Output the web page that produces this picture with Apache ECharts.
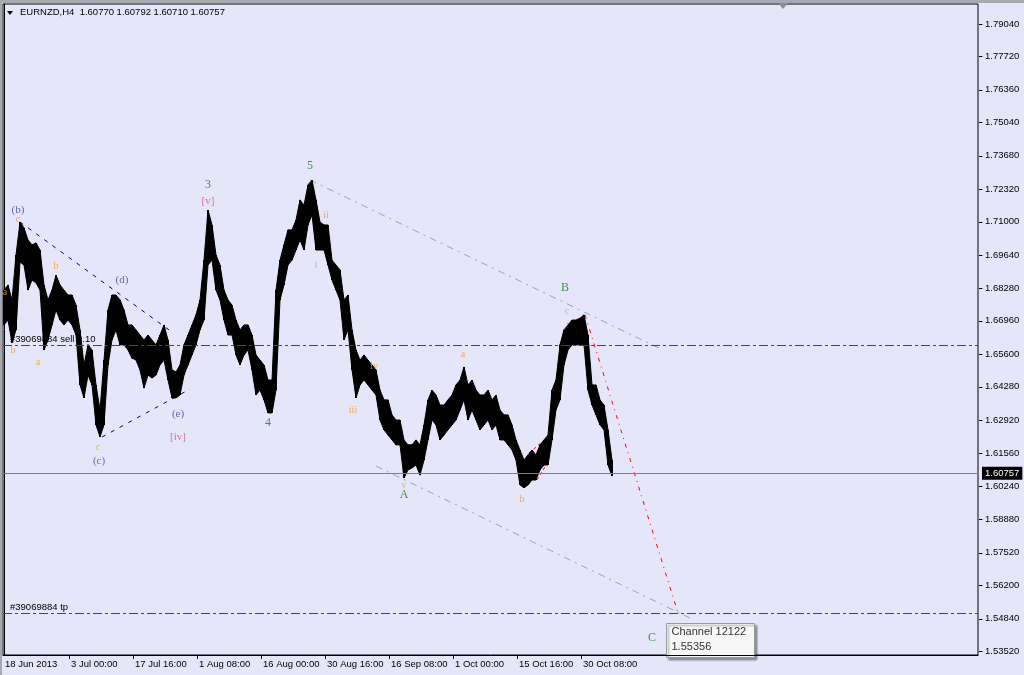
<!DOCTYPE html>
<html>
<head>
<meta charset="utf-8">
<script src="https://cdn.jsdelivr.net/npm/echarts@6/dist/echarts.min.js"></script>
<style>
html,body{margin:0;padding:0;background:#E6E6FA;}
#chart{width:1024px;height:675px;}
</style>
</head>
<body>
<div id="chart"></div>
<script>
// ---- data (EURNZD H4, sampled every 4 bars: high / low) ----
const barHigh = [
1.6821,1.6842,1.6781,1.6964,1.7098,1.7074,1.7025,1.7005,1.7013,1.6984,
1.6842,1.6781,1.6821,1.6882,1.6842,1.6821,1.6801,1.6801,1.6760,1.6659,
1.6516,1.6598,1.6577,1.6435,1.6333,1.6536,1.6740,1.6801,1.6801,1.6781,
1.6740,1.6679,1.6679,1.6659,1.6638,1.6618,1.6638,1.6618,1.6598,1.6638,
1.6679,1.6618,1.6496,1.6488,1.6516,1.6598,1.6638,1.6679,1.6720,1.6781,
1.6943,1.7147,1.7086,1.6964,1.6923,1.6821,1.6781,1.6760,1.6699,1.6659,
1.6679,1.6679,1.6638,1.6557,1.6536,1.6516,1.6455,1.6455,1.6821,1.6943,
1.7005,1.7066,1.7066,1.7106,1.7188,1.7167,1.7249,1.7269,1.7188,1.7098,
1.7086,1.7086,1.6943,1.6923,1.6903,1.6781,1.6801,1.6659,1.6577,1.6536,
1.6557,1.6536,1.6516,1.6496,1.6414,1.6374,1.6374,1.6313,1.6292,1.6292,
1.6211,1.6191,1.6191,1.6211,1.6191,1.6272,1.6374,1.6414,1.6394,1.6353,
1.6353,1.6374,1.6394,1.6435,1.6455,1.6508,1.6435,1.6455,1.6414,1.6394,
1.6394,1.6414,1.6374,1.6394,1.6333,1.6313,1.6313,1.6272,1.6211,1.6170,
1.6129,1.6150,1.6170,1.6150,1.6191,1.6211,1.6231,1.6414,1.6455,1.6598,
1.6659,1.6679,1.6699,1.6699,1.6707,1.6720,1.6638,1.6435,1.6435,1.6374,
1.6353,1.6252,1.6129
];
const barLow = [
1.6679,1.6699,1.6606,1.6659,1.6935,1.6923,1.6821,1.6862,1.6850,1.6821,
1.6577,1.6618,1.6679,1.6740,1.6699,1.6679,1.6699,1.6679,1.6638,1.6435,
1.6382,1.6475,1.6435,1.6272,1.6223,1.6272,1.6516,1.6618,1.6659,1.6598,
1.6598,1.6577,1.6544,1.6536,1.6496,1.6422,1.6475,1.6463,1.6475,1.6516,
1.6536,1.6455,1.6382,1.6382,1.6394,1.6475,1.6516,1.6557,1.6598,1.6659,
1.6699,1.6923,1.6943,1.6821,1.6781,1.6699,1.6638,1.6638,1.6557,1.6516,
1.6557,1.6577,1.6496,1.6394,1.6414,1.6374,1.6321,1.6321,1.6414,1.6781,
1.6842,1.6923,1.6943,1.6984,1.7025,1.6984,1.7086,1.7127,1.6984,1.6984,
1.6984,1.6923,1.6862,1.6821,1.6781,1.6618,1.6659,1.6496,1.6382,1.6435,
1.6455,1.6435,1.6414,1.6394,1.6292,1.6252,1.6231,1.6211,1.6191,1.6191,
1.6056,1.6089,1.6097,1.6109,1.6068,1.6129,1.6211,1.6292,1.6272,1.6211,
1.6231,1.6252,1.6272,1.6292,1.6333,1.6374,1.6292,1.6333,1.6292,1.6252,
1.6272,1.6292,1.6252,1.6272,1.6211,1.6211,1.6191,1.6170,1.6129,1.6028,
1.6016,1.6028,1.6048,1.6048,1.6089,1.6109,1.6109,1.6211,1.6333,1.6374,
1.6516,1.6577,1.6598,1.6598,1.6598,1.6598,1.6414,1.6353,1.6313,1.6272,
1.6252,1.6109,1.6064
];
const barStep = 4; // bars per sample

const yTickValues = [1.79040,1.77720,1.76360,1.75040,1.73680,1.72320,1.71000,1.69640,1.68280,1.66960,
1.65600,1.64280,1.62920,1.61560,1.60240,1.58880,1.57520,1.56200,1.54840,1.53520];
const xTickBars = [-1,65,129,193,257,321,385,449,513,577];
const xTickLabels = ['18 Jun 2013','3 Jul 00:00','17 Jul 16:00','1 Aug 08:00','16 Aug 00:00','30 Aug 16:00','16 Sep 08:00','1 Oct 00:00','15 Oct 16:00','30 Oct 08:00'];

const lastPrice = 1.60757;
const sellLevel = 1.6597;
const tpLevel = 1.5505;

// trend lines [bar, price]
const navyUpper = [[16,1.7098],[168,1.6650]];
const navyLower = [[98,1.6223],[186,1.6418]];
const channelUpper = [[306,1.7269],[659,1.6577]];
const channelLower = [[372,1.6105],[686,1.5486]];
const redProjection = [[581,1.6720],[674,1.5507]];
const redSmall1 = [[525,1.6158],[543,1.6219]];
const redSmall2 = [[533,1.6048],[544,1.6121]];
const redSmall3 = [[553,1.6345],[564,1.6687]];

// wave labels
const waveText  = ['(b)','c','a','b','a','b','(d)','c','(c)','(e)','[iv]','3','[v]','4','5','ii','i','iii','iv','a','v','A','B','c','b','C'];
const waveBar   = [14,14,1,9,34,52,118,94,95,174,174,204,204,264,306,322,312,349,370,459,400,400,561,563,518,648];
const wavePrice = [1.7147,1.7110,1.6813,1.6577,1.6528,1.6919,1.6862,1.6182,1.6125,1.6317,1.6223,1.7249,1.7184,1.6280,1.7326,1.7127,1.6923,1.6333,1.6512,1.6561,1.6028,1.5987,1.6829,1.6736,1.5971,1.5405];
const waveKind  = ['navy','orange','orange','orange','orange','orange','navy','orange','navy','navy','pink','green','pink','green','green','orange','orange','orange','orange','orange','orange','green','green','orange','orange','green'];

const kindStyle = {
  navy:  {color:'#45459a', fontSize:11, fontFamily:'Liberation Serif'},
  orange:{color:'#f59a20', fontSize:10, fontFamily:'Liberation Serif'},
  pink:  {color:'#e0506e', fontSize:11, fontFamily:'Liberation Serif'},
  green: {color:'#13801f', fontSize:12, fontFamily:'Liberation Serif'}
};

const barData = barHigh.map((h, i) => [i * barStep, h, barLow[i]]);
const waveData = waveText.map((t, i) => ({
  value: [waveBar[i], wavePrice[i]],
  label: Object.assign({show:true, position:'inside', formatter:t}, kindStyle[waveKind[i]])
}));
const yTickData = yTickValues.map(v => [974, v]);

const FONT = 'Liberation Sans';
const chart = echarts.init(document.getElementById('chart'), null, {renderer:'canvas'});

function seg(data, color, type, width) {
  return {type:'line', data:data, symbol:'none', silent:true, animation:false,
    lineStyle:{color:color, type:type, width:width||1}, z:3};
}

chart.setOption({
  backgroundColor:'#E6E6FA',
  animation:false,
  grid:{left:3, top:4, width:975, height:651, show:true, borderColor:'#000', borderWidth:1, backgroundColor:'#E6E6FA'},
  xAxis:{
    type:'value', min:-1, max:974,
    splitLine:{show:false},
    axisLine:{show:true, lineStyle:{color:'#000'}},
    axisTick:{show:true, length:4, lineStyle:{color:'#000'}, customValues:xTickBars.slice(1)},
    axisLabel:{
      customValues:xTickBars, align:'left', padding:[0,0,0,2], margin:4,
      color:'#000', fontFamily:FONT, fontSize:9.5,
      formatter:function(v){ const k = xTickBars.indexOf(v); return k >= 0 ? xTickLabels[k] : ''; }
    }
  },
  yAxis:{
    type:'value', position:'right', min:1.53357, max:1.79854,
    splitLine:{show:false},
    axisLine:{show:true, lineStyle:{color:'#000'}},
    axisTick:{show:false},
    axisLabel:{customValues:yTickValues, margin:7, color:'#000', fontFamily:FONT, fontSize:9.5,
      formatter:function(v){ return v.toFixed(5); }}
  },
  series:[
    {
      type:'custom', name:'EURNZD', data:barData, silent:true, animation:false, z:4,
      encode:{x:0, y:[1,2]},
      renderItem:function(params, api){
        const i = params.dataIndex;
        const x = api.value(0);
        const a1 = api.coord([x, api.value(1)]);
        const a2 = api.coord([x, api.value(2)]);
        const children = [
          {type:'line', shape:{x1:a1[0], y1:a1[1], x2:a2[0], y2:a2[1]}, style:{stroke:'#000', lineWidth:2}}
        ];
        if (i + 1 < barData.length) {
          const n = barData[i + 1];
          const b1 = api.coord([n[0], n[1]]);
          const b2 = api.coord([n[0], n[2]]);
          children.push({type:'polygon', shape:{points:[a1, b1, b2, a2]},
            style:{fill:'#000', stroke:'#000', lineWidth:1}});
        }
        return {type:'group', children:children};
      }
    },
    {
      type:'custom', name:'yticks', data:yTickData, silent:true, animation:false, z:5,
      renderItem:function(params, api){
        const p = api.coord([api.value(0), api.value(1)]);
        const xr = Math.round(p[0]) + 0.5, yr = Math.round(p[1]) + 0.5;
        return {type:'line', shape:{x1:xr + 0.5, y1:yr, x2:xr + 4, y2:yr}, style:{stroke:'#000', lineWidth:1}};
      }
    },
    Object.assign(seg(channelUpper, '#a0a0a8', [7,5,2,5]), {
      markLine:{
        silent:true, symbol:['none','none'], animation:false, precision:5,
        data:[
          {yAxis:sellLevel, lineStyle:{color:'#cc1010', type:[9,3,3,3], width:1},
           label:{show:true, position:'insideStartTop', distance:1, padding:[0,0,0,6], formatter:'#39069884 sell 0.10',
             color:'#000', fontFamily:FONT, fontSize:9.5}},
          {yAxis:tpLevel, lineStyle:{color:'#cc1010', type:[9,3,3,3], width:1},
           label:{show:true, position:'insideStartTop', distance:1, padding:[0,0,0,6], formatter:'#39069884 tp',
             color:'#000', fontFamily:FONT, fontSize:9.5}},
          {yAxis:lastPrice, lineStyle:{color:'#708090', type:'solid', width:1},
           label:{show:true, position:'end', distance:4, formatter:lastPrice.toFixed(5),
             color:'#fff', backgroundColor:'#000', padding:[2,3,1,3], fontFamily:FONT, fontSize:9.5}}
        ]
      }
    }),
    seg(channelLower, '#a0a0a8', [7,5,2,5]),
    seg(navyUpper, '#000080', [4,6]),
    seg(navyLower, '#000080', [4,6]),
    seg(redProjection, '#ff0000', [4,5,1,5]),
    seg(redSmall1, '#ff0000', [3,3]),
    seg(redSmall2, '#ff0000', [3,3]),
    seg(redSmall3, '#ff0000', [3,3]),
    {type:'scatter', data:waveData, symbolSize:0, silent:true, animation:false, z:6}
  ],
  graphic:[
    {type:'rect', shape:{x:0, y:0, width:1024, height:3}, style:{fill:'#a8a8b0'}, z:100},
    {type:'rect', shape:{x:0, y:0, width:2, height:675}, style:{fill:'#a8a8b0'}, z:100},
    {type:'polygon', shape:{points:[[778,3],[788,3],[783,9]]}, style:{fill:'#8c8c94'}, z:100},
    {type:'polygon', shape:{points:[[7,11],[13,11],[10,15]]}, style:{fill:'#000'}, z:100},
    {type:'text', left:20, top:7, style:{text:'EURNZD,H4  1.60770 1.60792 1.60710 1.60757', fill:'#000', font:'9.5px "Liberation Sans"'}, z:100},
    {type:'group', left:666, top:623, z:100, children:[
      {type:'rect', shape:{x:0, y:0, width:88, height:34}, style:{fill:'#f7f7f7', stroke:'#9a9a9a', lineWidth:1,
        shadowColor:'rgba(0,0,0,0.35)', shadowOffsetX:2, shadowOffsetY:2, shadowBlur:2}},
      {type:'text', x:5, y:3, style:{text:'Channel 12122', fill:'#333', font:'11px "Liberation Sans"'}},
      {type:'text', x:5, y:18, style:{text:'1.55356', fill:'#333', font:'11px "Liberation Sans"'}}
    ]}
  ]
});
</script>
</body>
</html>
